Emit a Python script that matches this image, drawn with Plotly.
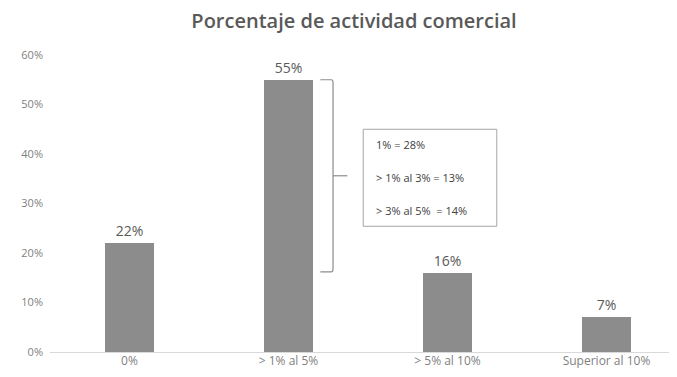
import plotly.graph_objects as go

categories = ["0%", "> 1% al 5%", "> 5% al 10%", "Superior al 10%"]
values = [0.22, 0.55, 0.16, 0.07]
tick_vals = [0, 0.1, 0.2, 0.3, 0.4, 0.5, 0.6]
tick_text = ["0%", "10%", "20%", "30%", "40%", "50%", "60%"]
breakdown = ["1% = 28%", "> 1% al 3% = 13%", "> 3% al 5%  = 14%"]

FONT = "Open Sans"
x_idx = list(range(len(categories)))

fig = go.Figure()
fig.add_trace(go.Bar(
    x=x_idx, y=values, width=0.31,
    marker=dict(color="#8c8c8c", line=dict(width=0)),
    text=[f"{v*100:.0f}%" for v in values], textposition="outside",
    textfont=dict(family=FONT, size=14, color="#595959"),
    cliponaxis=False, hoverinfo="skip",
))

# bracket around the "> 1% al 5%" breakdown
bx0, bx1, bx2 = 1.2, 1.28, 1.37
ytop, ybot, ymid = 0.55, 0.162, 0.356
line = dict(color="#8c8c8c", width=1.2)
fig.add_shape(type="path", xref="x", yref="y",
              path=f"M {bx0} {ytop} L {bx1-0.01} {ytop} Q {bx1} {ytop} {bx1} {ytop-0.006} "
                   f"L {bx1} {ybot+0.006} Q {bx1} {ybot} {bx1-0.01} {ybot} L {bx0} {ybot}",
              line=line)
fig.add_shape(type="line", xref="x", yref="y", x0=bx1, x1=bx2, y0=ymid, y1=ymid, line=line)

# breakdown box
fig.add_shape(type="rect", xref="x", yref="y", x0=1.47, x1=2.31, y0=0.254, y1=0.45,
              line=dict(color="#a6a6a6", width=1), fillcolor="white")
for i, t in enumerate(breakdown):
    fig.add_annotation(x=1.54, y=0.42 - i * 0.067, xref="x", yref="y", text=t,
                       showarrow=False, xanchor="left", yanchor="middle",
                       font=dict(family=FONT, size=11, color="#404040"))

fig.update_layout(
    width=669, height=369,
    margin=dict(l=42, r=0, t=47, b=25),
    paper_bgcolor="white", plot_bgcolor="white",
    showlegend=False,
    title=dict(text="Porcentaje de actividad comercial", x=(354 - 8) / 669, xanchor="center",
               y=1 - 13 / 369, yanchor="middle",
               font=dict(family=FONT, size=20, color="#595959", weight=600)),
    bargap=0,
)
fig.update_xaxes(
    range=[-0.5, -0.5 + 627 / 159], tickvals=x_idx, ticktext=categories,
    showgrid=False, zeroline=False, showline=False, ticks="",
    tickfont=dict(family=FONT, size=12, color="#7f7f7f"),
)
fig.update_yaxes(
    range=[0, 0.6], tickvals=tick_vals, ticktext=tick_text,
    showgrid=False, zeroline=True, zerolinecolor="#d9d9d9", zerolinewidth=1,
    showline=False, ticks="", ticklabelstandoff=6,
    tickfont=dict(family=FONT, size=11, color="#7f7f7f"),
)

fig.write_html("out.html")
